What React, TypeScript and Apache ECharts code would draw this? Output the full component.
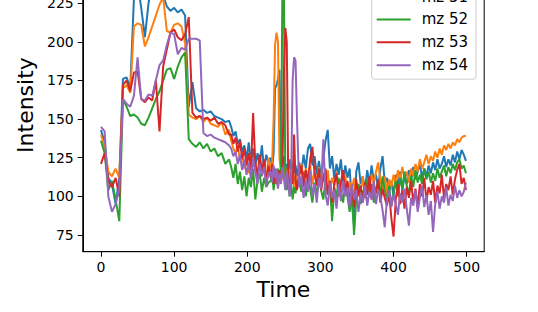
import React, { useEffect, useRef } from "react";
import * as echarts from "echarts";

const time = [
  0, 5, 10, 15, 20, 25, 30, 35, 40, 45, 50, 55, 60, 65, 70, 75, 80, 85, 90, 95, 100, 105, 110, 115, 120, 125, 130, 135, 140, 145, 150, 155, 160, 165, 170, 175,
  178, 181, 184, 187, 190, 193, 196, 199, 202, 205, 208, 211, 214, 217, 220, 223, 226, 229,
  232, 234, 236, 238, 240, 242, 244, 246, 248, 250, 252, 254, 256, 258, 260, 262, 264, 266, 268,
  271, 274, 277, 280, 283, 286, 289, 292, 295, 298,
  301, 304, 307, 310, 313, 316, 319, 322, 325, 328,
  331, 334, 337, 340, 343, 346, 349, 352, 355, 358,
  361, 364, 367, 370, 373, 376, 379, 382, 385, 388,
  391, 394, 397, 400, 403, 406, 409, 412, 415, 418,
  421, 424, 427, 430, 433, 436, 439, 442, 445, 448,
  451, 454, 457, 460, 463, 466, 469, 472, 475, 478,
  481, 484, 487, 490, 493, 496, 499,
];

const mz50 = [
  143, 135, 112, 108, 95, 112, 176, 177, 170, 228, 238, 222, 203, 225, 240, 245, 238, 230, 223, 220, 222, 219, 221, 217, 158, 174, 157, 155, 156, 154, 155, 152, 151, 150, 148, 149,
  145, 139, 142, 134, 137, 129, 133, 124, 135, 122, 131, 118, 128, 121, 133, 117, 127, 122,
  125, 118, 128, 170, 172, 176, 182, 128, 120, 126, 112, 121, 117, 124, 110, 122, 115, 120, 113,
  122, 115, 127, 118, 131, 134, 120, 126, 114, 123,
  112, 124, 136, 143, 118, 126, 111, 121, 114, 124,
  108, 120, 112, 118, 96, 81, 116, 122, 108, 113,
  104, 117, 108, 120, 110, 114, 105, 118, 126, 109,
  112, 103, 110, 100, 114, 106, 116, 104, 113, 108,
  117, 110, 119, 111, 116, 121, 112, 118, 113, 120,
  115, 122, 117, 124, 118, 121, 126, 119, 124, 120,
  127, 122, 129, 124, 130, 127, 123,
];

const mz51 = [
  140, 132, 116, 113, 118, 112, 170, 172, 167, 210, 212, 211, 197, 203, 210, 217, 224, 229, 207, 206, 211, 212, 210, 199, 153, 151, 150, 152, 148, 151, 147, 146, 145, 148, 140, 143,
  136, 131, 128, 133, 124, 127, 118, 125, 115, 127, 119, 122, 112, 124, 117, 121, 110, 125,
  118, 122, 150, 198, 206, 200, 125, 115, 121, 110, 119, 113, 105, 118, 110, 116, 106, 114, 109,
  114, 121, 109, 118, 112, 120, 108, 116, 110, 119,
  106, 114, 109, 117, 104, 112, 107, 116, 102, 110,
  105, 114, 100, 109, 104, 112, 98, 108, 103, 113,
  99, 110, 105, 114, 108, 116, 122, 110, 104, 113,
  102, 111, 106, 114, 108, 117, 110, 119, 112, 116,
  109, 118, 113, 121, 116, 124, 118, 122, 127, 121,
  126, 123, 129, 125, 131, 127, 133, 130, 134, 131,
  135, 133, 137, 135, 138, 139, 139,
];

const mz52 = [
  136, 128, 104, 110, 98, 84, 163, 158, 152, 153, 151, 147, 146, 151, 157, 163, 168, 175, 182, 183, 176, 184, 190, 193, 137, 134, 132, 135, 131, 134, 129, 131, 126, 128, 121, 124,
  119, 112, 121, 108, 116, 104, 113, 100, 112, 106, 118, 98, 110, 115, 103, 112, 106, 109,
  110, 115, 104, 112, 108, 118, 110, 114, 232, 240, 112, 104, 110, 100, 108, 98, 106, 102, 110,
  110, 103, 116, 100, 112, 105, 96, 109, 101, 113,
  104, 98, 111, 102, 108, 84, 106, 99, 112, 103,
  96, 108, 100, 90, 104, 75, 98, 108, 95, 104,
  99, 111, 102, 108, 96, 104, 110, 101, 113, 104,
  98, 107, 94, 103, 110, 100, 112, 105, 116, 107,
  101, 113, 106, 117, 109, 114, 108, 118, 111, 116,
  109, 115, 110, 118, 112, 116, 120, 113, 119, 115,
  121, 117, 122, 124, 118, 120, 115,
];

const mz53 = [
  121, 128, 110, 106, 112, 100, 172, 175, 168, 180, 181, 163, 161, 164, 162, 175, 142, 184, 195, 206, 208, 203, 201, 205, 216, 154, 151, 152, 150, 151, 149, 151, 147, 148, 146, 140,
  140, 134, 138, 129, 136, 124, 131, 120, 128, 117, 154, 121, 113, 127, 116, 124, 109, 120,
  112, 121, 108, 118, 113, 106, 117, 110, 114, 180, 209, 200, 112, 105, 115, 108, 140, 110, 104,
  113, 120, 106, 117, 109, 124, 132, 115, 107, 118,
  104, 112, 118, 101, 110, 96, 108, 115, 100, 109,
  117, 102, 110, 97, 106, 93, 111, 100, 107, 96,
  109, 101, 113, 98, 108, 102, 111, 96, 105, 99,
  94, 102, 86, 74, 98, 108, 95, 104, 92, 106,
  99, 110, 96, 105, 93, 108, 100, 112, 97, 106,
  101, 110, 96, 107, 102, 114, 99, 108, 104, 113,
  101, 111, 117, 121, 108, 112, 104,
];

const mz54 = [
  145, 142, 100, 90, 95, 105, 163, 160, 158, 165, 190, 163, 162, 166, 165, 175, 185, 188, 198, 206, 205, 192, 196, 195, 202, 202, 202, 201, 141, 139, 140, 138, 137, 136, 135, 133,
  131, 126, 129, 121, 127, 117, 124, 114, 122, 111, 125, 116, 108, 121, 113, 119, 107, 115,
  116, 109, 120, 112, 118, 105, 115, 108, 119, 112, 104, 116, 110, 100, 112, 175, 190, 188, 150,
  106, 113, 99, 110, 103, 117, 100, 108, 96, 112,
  105, 137, 101, 94, 109, 99, 104, 92, 108, 97,
  110, 100, 106, 93, 108, 98, 104, 90, 102, 96,
  107, 94, 103, 98, 110, 95, 104, 100, 91, 80,
  98, 104, 93, 101, 95, 88, 102, 96, 105, 92,
  81, 99, 94, 104, 90, 99, 107, 93, 101, 88,
  97, 77, 95, 103, 92, 100, 96, 106, 94, 101,
  97, 107, 99, 104, 100, 103, 109,
];

const seriesNames = ["mz 50", "mz 51", "mz 52", "mz 53", "mz 54"];
const seriesValues = [mz50, mz51, mz52, mz53, mz54];
const colors = ["#1f77b4", "#ff7f0e", "#2ca02c", "#d62728", "#9467bd"];
const xTicks = [0, 100, 200, 300, 400, 500];
const yTicks = [75, 100, 125, 150, 175, 200, 225, 250];

// The chart canvas extends above the visible page; only its lower part is shown.
const OFFSET = 60;

export default function App() {
  const ref = useRef<HTMLDivElement>(null);
  useEffect(() => {
    const chart = echarts.init(ref.current!, null, { renderer: "svg" });
    const font = "DejaVu Sans";
    chart.setOption({
      animation: false,
      backgroundColor: "#ffffff",
      grid: {
        left: 82.75,
        right: 53.8,
        top: OFFSET - 41.6,
        bottom: 60.3,
        show: true,
        borderColor: "#000000",
        borderWidth: 1,
        backgroundColor: "transparent",
        outerBoundsMode: "none",
      },
      xAxis: {
        type: "value",
        min: -24.95,
        max: 523.95,
        name: "Time",
        nameLocation: "middle",
        nameGap: 27,
        nameTextStyle: { fontFamily: font, fontSize: 22, color: "#000" },
        axisLine: { show: true, onZero: false, lineStyle: { color: "#000", width: 1 } },
        axisTick: { show: true, length: 5, lineStyle: { color: "#000", width: 1 }, customValues: xTicks },
        axisLabel: { fontFamily: font, fontSize: 14, color: "#000", margin: 8, customValues: xTicks },
        splitLine: { show: false },
      },
      yAxis: {
        type: "value",
        min: 64.2,
        max: 254,
        name: "Intensity",
        nameLocation: "middle",
        nameRotate: 90,
        nameGap: 38,
        nameTextStyle: { fontFamily: font, fontSize: 22, color: "#000" },
        axisLine: { show: true, onZero: false, lineStyle: { color: "#000", width: 1 } },
        axisTick: { show: true, length: 5, lineStyle: { color: "#000", width: 1 }, customValues: yTicks },
        axisLabel: { fontFamily: font, fontSize: 14, color: "#000", margin: 9, customValues: yTicks },
        splitLine: { show: false },
      },
      legend: {
        orient: "vertical",
        left: 371.7,
        top: OFFSET - 40.4,
        data: seriesNames,
        icon: "rect",
        itemWidth: 34,
        itemHeight: 2,
        itemGap: 4.9,
        padding: [5, 8, 5, 5],
        textStyle: { fontFamily: font, fontSize: 15, color: "#000", lineHeight: 18, padding: [0, 0, 0, 6] },
        backgroundColor: "rgba(255,255,255,0.8)",
        borderColor: "#cccccc",
        borderWidth: 1,
        borderRadius: 3,
      },
      series: seriesNames.map((name, k) => ({
        name,
        type: "line",
        data: time.map((t, i) => [t, seriesValues[k][i]]),
        showSymbol: false,
        symbol: "none",
        color: colors[k],
        lineStyle: { color: colors[k], width: 2 },
      })),
    });
    return () => chart.dispose();
  }, []);
  return (
    <div
      ref={ref}
      style={{ position: "absolute", left: 0, top: -OFFSET, width: 538, height: 312 + OFFSET, background: "#fff" }}
    />
  );
}
